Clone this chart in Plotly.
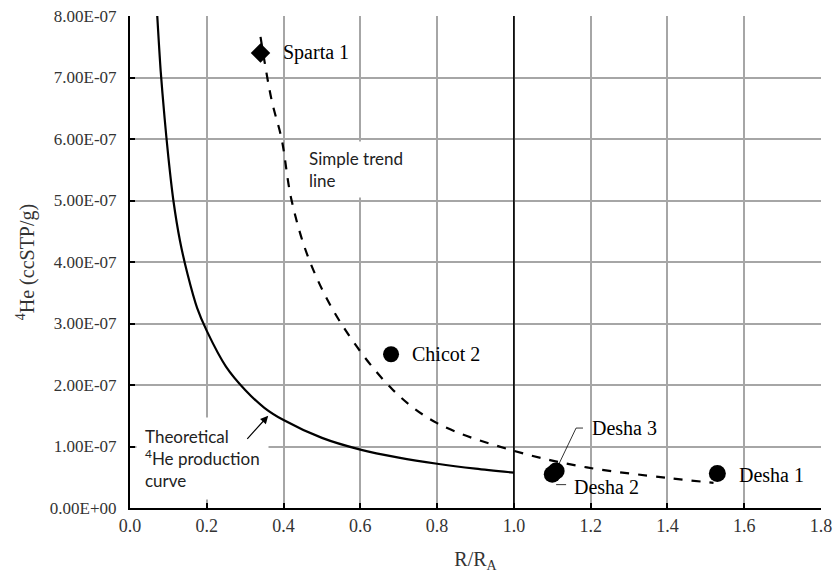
import plotly.graph_objects as go

# ---- data ----
theo_x = [0.071, 0.08, 0.09, 0.1, 0.113, 0.13, 0.15, 0.175, 0.2, 0.25, 0.3, 0.35, 0.4, 0.5,
          0.6, 0.7, 0.8, 0.9, 1.0]
theo_y = [8.0e-7, 7.1e-7, 6.35e-7, 5.7e-7, 5.0e-7, 4.35e-7, 3.8e-7, 3.25e-7, 2.88e-7, 2.3e-7,
          1.92e-7, 1.63e-7, 1.43e-7, 1.14e-7, 9.5e-8, 8.2e-8, 7.2e-8, 6.4e-8, 5.75e-8]

trend_x = [0.34, 0.369, 0.395, 0.421, 0.469, 0.55, 0.685, 0.8, 1.0, 1.19, 1.4, 1.52]
trend_y = [7.66e-7, 6.63e-7, 6.0e-7, 5.0e-7, 4.0e-7, 3.0e-7, 1.92e-7, 1.38e-7, 9.3e-8, 6.6e-8, 4.9e-8, 4.1e-8]

sample_names = ["Sparta 1", "Chicot 2", "Desha 2", "Desha 3", "Desha 1"]
sample_x = [0.34, 0.68, 1.10, 1.11, 1.53]
sample_y = [7.4e-7, 2.5e-7, 5.5e-8, 6.0e-8, 5.6e-8]

y_tickvals = [0, 1e-7, 2e-7, 3e-7, 4e-7, 5e-7, 6e-7, 7e-7, 8e-7]
y_ticktext = ["0.00E+00", "1.00E-07", "2.00E-07", "3.00E-07", "4.00E-07",
              "5.00E-07", "6.00E-07", "7.00E-07", "8.00E-07"]
x_tickvals = [0.0, 0.2, 0.4, 0.6, 0.8, 1.0, 1.2, 1.4, 1.6, 1.8]

# label anchor positions (data coords)
label_x = [0.393, 0.729, 1.151, 1.198, 1.581]
label_y = [7.4e-7, 2.5e-7, 3.4e-8, 1.3e-7, 5.4e-8]

SERIF = "Liberation Serif"
SANS = "Lato"
GRID = "#a6a6a6"

fig = go.Figure()

fig.add_trace(go.Scatter(x=theo_x, y=theo_y, mode="lines", line_shape="spline",
                         line=dict(color="black", width=2.2, smoothing=0.8),
                         showlegend=False, hoverinfo="skip"))
fig.add_trace(go.Scatter(x=trend_x, y=trend_y, mode="lines", line_shape="spline",
                         line=dict(color="black", width=2.2, dash="dash"), showlegend=False, hoverinfo="skip"))

symbols = ["diamond", "circle", "circle", "circle", "circle"]
sizes = [15, 16, 17, 17, 17]
fig.add_trace(go.Scatter(x=sample_x, y=sample_y, mode="markers",
                         marker=dict(symbol=symbols, size=sizes, color="black", opacity=1,
                                     line=dict(width=0)),
                         text=sample_names, showlegend=False))

# vertical line at R/RA = 1
fig.add_shape(type="line", x0=1.0, x1=1.0, y0=0, y1=8e-7, xref="x", yref="y",
              line=dict(color="black", width=1.6), layer="above")

# sample labels
for i, name in enumerate(sample_names):
    fig.add_annotation(x=label_x[i], y=label_y[i], text=name, showarrow=False,
                       xanchor="left", yanchor="middle",
                       font=dict(family=SERIF, size=20, color="black"))

# leader for Desha 3 (elbow)
fig.add_shape(type="path", xref="x", yref="y",
              path=f"M {label_x[3]-0.018},{label_y[3]} L {label_x[3]-0.036},{label_y[3]} "
                   f"L {sample_x[3]+0.003},{sample_y[3]+0.6e-8}",
              line=dict(color="black", width=0.8))
# leader for Desha 2
fig.add_shape(type="line", xref="x", yref="y",
              x0=sample_x[2] + 0.01, y0=label_y[2] + 0.4e-8, x1=label_x[2] - 0.015, y1=label_y[2] + 0.4e-8,
              line=dict(color="black", width=0.8))

# text boxes
fig.add_annotation(x=0.447, y=5.5e-7, text="Simple trend<br>line", showarrow=False,
                   xanchor="left", yanchor="middle", align="left",
                   bgcolor="white", borderpad=6,
                   font=dict(family=SANS, size=17, color="#222222"))
fig.add_annotation(x=0.015, y=0.8e-7, text="Theoretical<br><sup>4</sup>He production<br>curve",
                   showarrow=False, xanchor="left", yanchor="middle", align="left",
                   bgcolor="white", borderpad=8,
                   font=dict(family=SANS, size=17, color="#222222"))
fig.add_annotation(x=0.36, y=1.5e-7, ax=0.302, ay=1.1e-7, xref="x", yref="y",
                   axref="x", ayref="y", text="", showarrow=True,
                   arrowhead=2, arrowsize=1.3, arrowwidth=1.2, arrowcolor="black")

fig.update_xaxes(range=[0, 1.8], tickvals=x_tickvals, tickformat=".1f",
                 showgrid=True, gridcolor=GRID, gridwidth=1.5,
                 showline=True, linecolor="black", linewidth=2,
                 ticks="inside", ticklen=5, tickcolor="black", tickwidth=1.5,
                 tickfont=dict(family=SERIF, size=18, color="#333333"),
                 title=dict(text="R/R<sub>A</sub>", font=dict(family=SERIF, size=20, color="#333333"),
                            standoff=17),
                 automargin=False, zeroline=False, mirror=False)
fig.update_yaxes(range=[0, 8e-7], tickvals=y_tickvals, ticktext=y_ticktext,
                 showgrid=True, gridcolor=GRID, gridwidth=1.5,
                 showline=True, linecolor="black", linewidth=2,
                 ticks="inside", ticklen=5, tickcolor="black", tickwidth=1.5,
                 ticklabelstandoff=8,
                 tickfont=dict(family=SERIF, size=17, color="#333333"),
                 title=dict(text="<sup>4</sup>He (ccSTP/g)", font=dict(family=SERIF, size=20, color="#333333"),
                            standoff=10),
                 automargin=False, zeroline=False)

fig.update_layout(width=834, height=573, plot_bgcolor="white", paper_bgcolor="white",
                  margin=dict(l=130, r=13, t=16, b=65), showlegend=False)

fig.write_html("out.html")
